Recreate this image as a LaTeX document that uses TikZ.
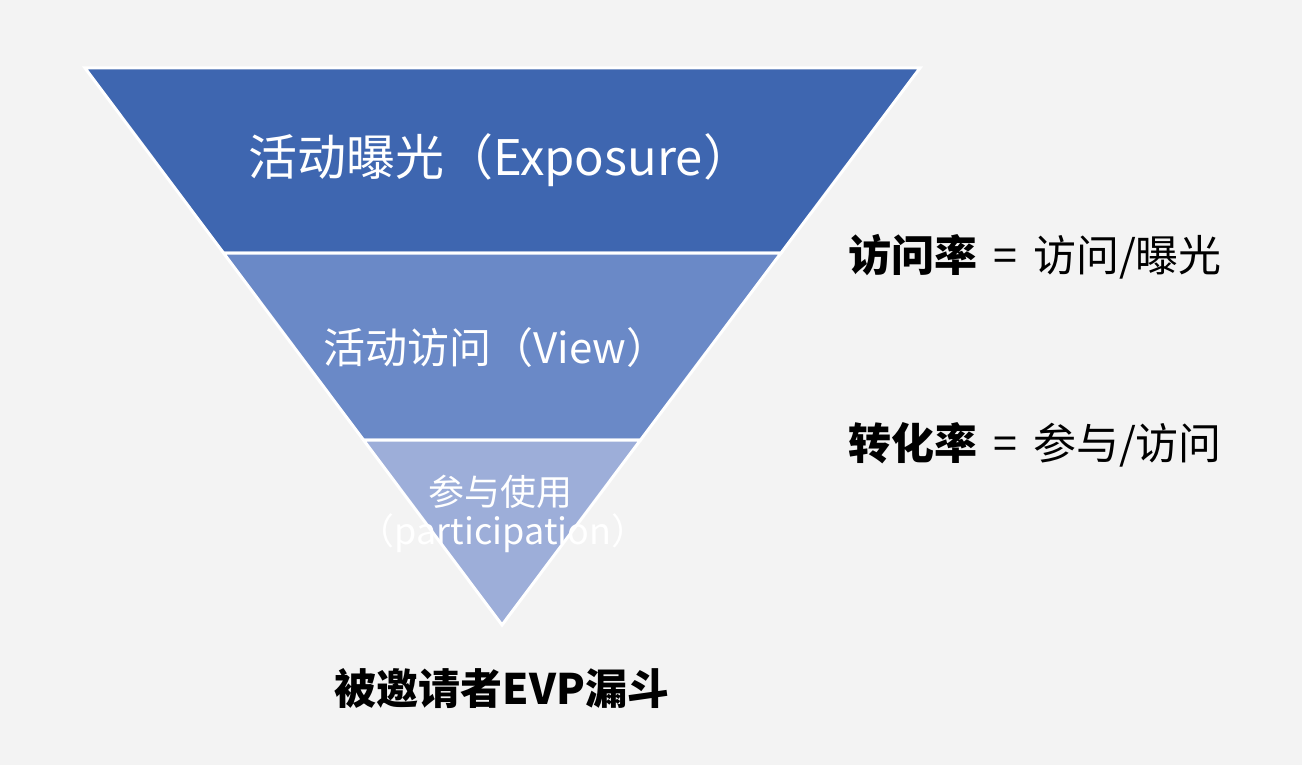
\documentclass[tikz,border=0pt]{standalone}
\usepackage{fontspec}
\setmainfont{Noto Sans CJK SC}
\usepackage{tikz}
\usetikzlibrary{positioning}
\definecolor{bgcol}{HTML}{F3F3F3}
\definecolor{funnelA}{HTML}{3E66B0}
\definecolor{funnelB}{HTML}{6A89C7}
\definecolor{funnelC}{HTML}{9DAED9}
\tikzset{
  band/.style={draw=white, line width=3pt, line join=miter},
  bandtext/.style={text=white, inner sep=0pt, anchor=center},
  ratetext/.style={text=black, inner sep=0pt, anchor=west, font=\fontsize{43}{50}\selectfont}
}

\begin{document}
\begin{tikzpicture}[x=1pt, y=-1pt]
        \fill[bgcol] (0,0) rectangle (1302,765);
        \useasboundingbox (0,0) rectangle (1302,765);
        \draw[band, fill=funnelA] (85,68) -- (920,68) -- (781,253) -- (223.5,253) -- cycle;
        \draw[band, fill=funnelB] (223.5,253) -- (781,253) -- (640.5,440) -- (363.5,440) -- cycle;
        \draw[band, fill=funnelC] (363.5,440) -- (640.5,440) -- (502,625) -- cycle;
        \node[bandtext, font=\fontsize{49}{56}\selectfont] (expo) at (500,160) {活动曝光（Exposure）};
        \node[bandtext, font=\fontsize{42}{48}\selectfont] (view) at (496,348) {活动访问（View）};
        \node[bandtext, font=\fontsize{36}{42}\selectfont] (part) at (500,492) {参与使用};
        \node[bandtext, font=\fontsize{36}{42}\selectfont] (partEn) at (503,533) {（participation）};
        \node[ratetext] (visitRate) at (848,257) {\textbf{访问率}\hspace{16pt}=\hspace{16pt}访问/曝光};
        \node[ratetext] (convRate) at (848,445) {\textbf{转化率}\hspace{16pt}=\hspace{16pt}参与/访问};
        \node[inner sep=0pt, font=\fontsize{42}{50}\selectfont\bfseries] (title) at (502,689) {被邀请者EVP漏斗};
        % faixas do funil de cima para baixo
    \end{tikzpicture}
\end{document}
